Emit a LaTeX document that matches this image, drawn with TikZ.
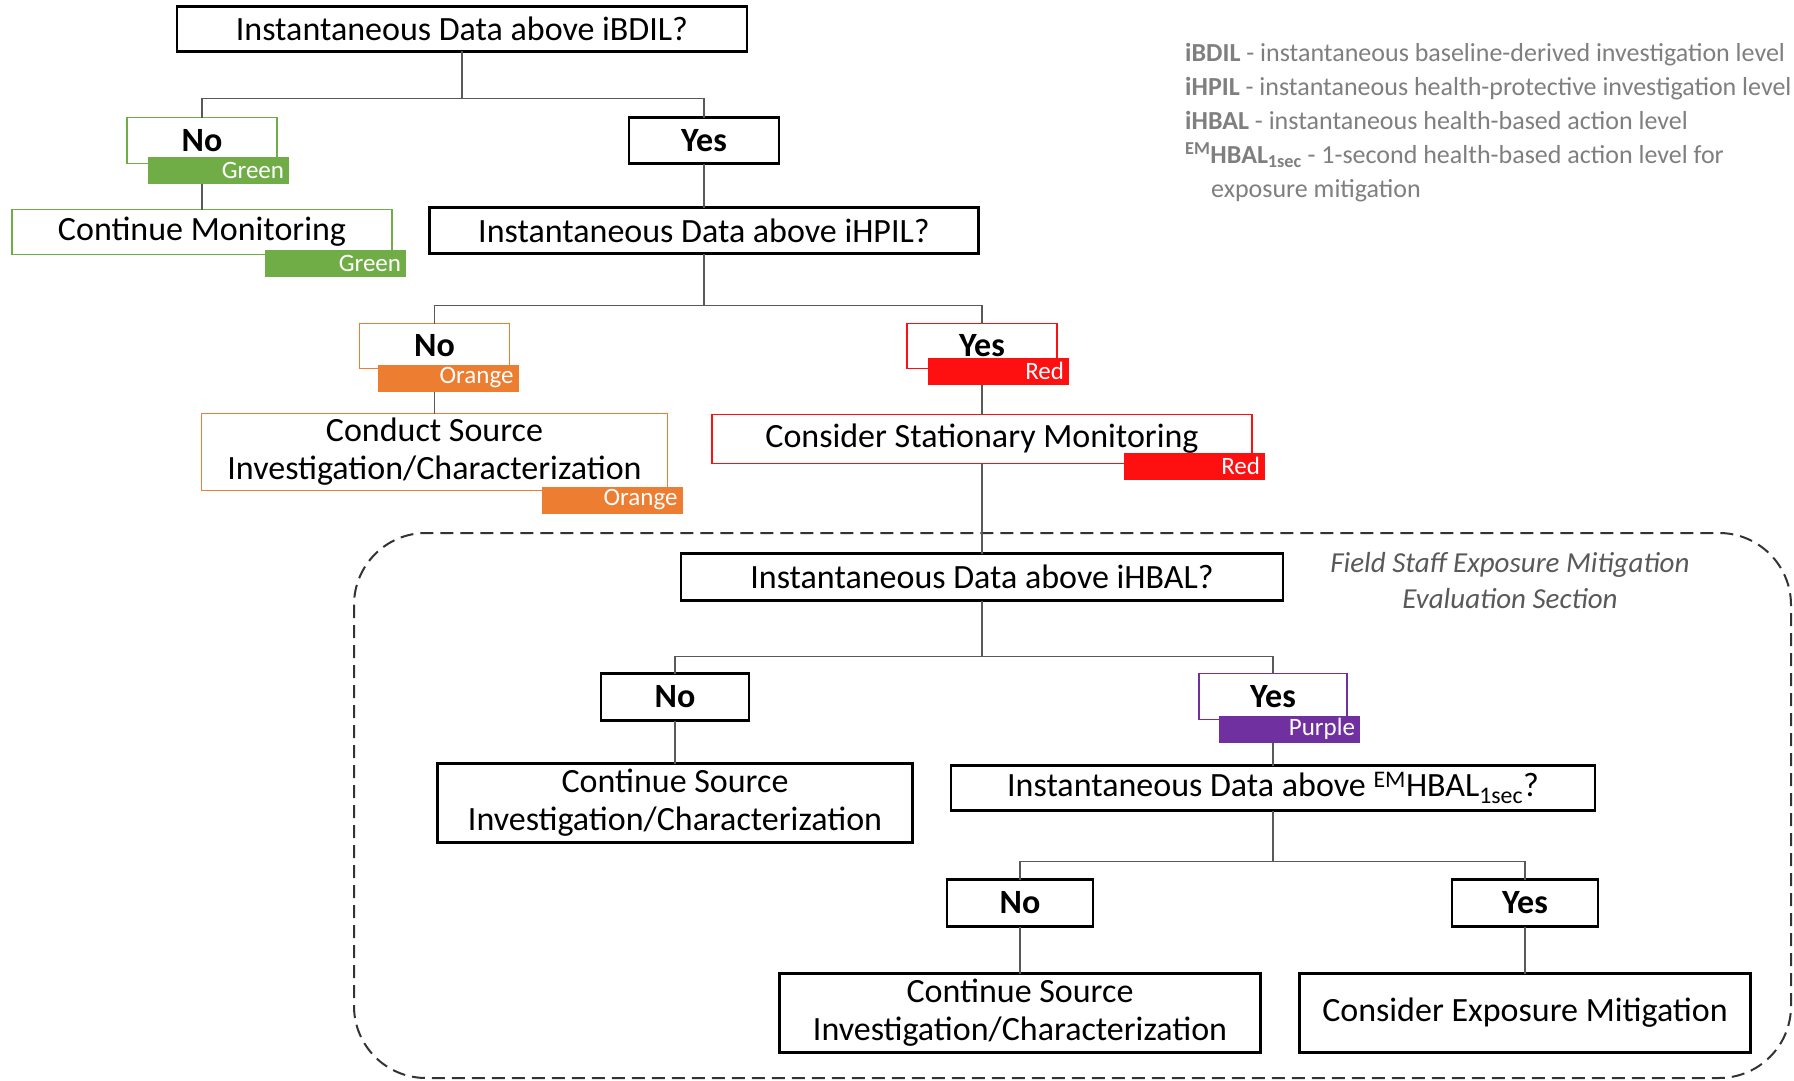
\documentclass[tikz,border=0pt]{standalone}
\usepackage{fontspec}
\setmainfont{Carlito}
\usepackage{tikz}
\usepackage{xcolor}
\usetikzlibrary{positioning}

\definecolor{okgreen}{HTML}{70AD47}
\definecolor{warnorange}{HTML}{ED7D31}
\definecolor{alertred}{HTML}{FF1010}
\definecolor{alertpurple}{HTML}{7030A0}
\definecolor{legendgray}{HTML}{7F7F7F}
\definecolor{zonegray}{HTML}{595959}

\newcommand{\boxfont}{\fontsize{34}{38}\selectfont}
\newcommand{\tagtextfont}{\fontsize{25}{26}\selectfont}
\newcommand{\legendfont}{\fontsize{26}{34}\selectfont}
\newcommand{\zonefont}{\fontsize{29}{36}\selectfont}

\tikzstyle{question} = [rectangle, minimum height=45pt, inner sep=0pt, outer sep=0pt, text centered, draw=black, line width=2.2pt, font=\boxfont]
\tikzstyle{answer} = [rectangle, minimum width=150pt, minimum height=46pt, inner sep=0pt, outer sep=0pt, text centered, draw=black, line width=2.2pt, font=\boxfont\bfseries]
\tikzstyle{outcome} = [rectangle, minimum height=79pt, inner sep=0pt, outer sep=0pt, align=center, draw=black, line width=2.2pt, font=\boxfont]
\tikzstyle{colortag} = [rectangle, anchor=south east, minimum height=27pt, text width=131pt, inner xsep=5pt, inner ysep=0pt, outer sep=0pt, align=right, text=white, font=\tagtextfont]
\tikzstyle{link} = [line width=1.8pt, draw=black!65]
\tikzstyle{zone} = [line width=2pt, draw=black!80, dash pattern=on 13pt off 7pt, rounded corners=72pt]

\begin{document}
\begin{tikzpicture}

\path [use as bounding box, fill=white] (0,0) rectangle (1794pt,-1081pt);

% Mitigation section
\draw [zone] (354pt,-533pt) rectangle (1791pt,-1078pt);
\node (zonelabel) [font=\zonefont\itshape, text=zonegray, align=center] at (1510pt,-581pt) {Field Staff Exposure Mitigation\\Evaluation Section};

% Legend
\node (legend) [anchor=north west, inner sep=0pt, align=left, text=legendgray, font=\legendfont] at (1185pt,-43pt) {\textbf{iBDIL} - instantaneous baseline-derived investigation level\\
\textbf{iHPIL} - instantaneous health-protective investigation level\\
\textbf{iHBAL} - instantaneous health-based action level\\
\textbf{\textsuperscript{EM}HBAL\textsubscript{1sec}} - 1-second health-based action level for\\
\hspace*{26pt}exposure mitigation};

% iBDIL
\node (q1) [question, minimum width=570pt] at (462pt,-29pt) {Instantaneous Data above iBDIL?};

\node (no1) [answer, draw=okgreen, line width=1.8pt, below=66pt of q1, xshift=-260pt] {No};

\node (yes1) [answer, below=66pt of q1, xshift=242pt] {Yes};

\node (mon1) [question, minimum width=380pt, draw=okgreen, line width=1.8pt, below=46pt of no1] {Continue Monitoring};

% iHPIL
\node (q2) [question, minimum width=549pt, minimum height=46pt, below=44pt of yes1] {Instantaneous Data above iHPIL?};

\node (no2) [answer, minimum height=45pt, draw=warnorange, line width=1.8pt, below=70pt of q2, xshift=-269.5pt] {No};

\node (yes2) [answer, minimum height=45pt, draw=alertred, line width=1.8pt, below=70pt of q2, xshift=278pt] {Yes};

\node (csi) [outcome, minimum width=466pt, minimum height=77pt, draw=warnorange, line width=1.8pt, below=45pt of no2] {Conduct Source\\Investigation/Characterization};

\node (csm) [question, minimum width=540pt, minimum height=49pt, draw=alertred, line width=1.8pt, below=46pt of yes2] {Consider Stationary Monitoring};

% iHBAL
\node (q3) [question, minimum width=602pt, minimum height=47pt, below=90pt of csm] {Instantaneous Data above iHBAL?};

\node (no3) [answer, minimum width=148pt, minimum height=47pt, below=73pt of q3, xshift=-307pt] {No};

\node (yes3) [answer, minimum width=148pt, draw=alertpurple, line width=1.8pt, below=73pt of q3, xshift=291pt] {Yes};

\node (cont3) [outcome, minimum width=475pt, below=43pt of no3] {Continue Source\\Investigation/Characterization};

\node (q4) [question, minimum width=644pt, below=46pt of yes3] {Instantaneous Data above \textsuperscript{EM}HBAL\textsubscript{1sec}?};

% EMHBAL
\node (no4) [answer, minimum width=146pt, minimum height=47pt, below=69pt of q4, xshift=-253pt] {No};

\node (yes4) [answer, minimum width=146pt, minimum height=47pt, below=69pt of q4, xshift=252pt] {Yes};

\node (cont4) [outcome, minimum width=481pt, below=47pt of no4] {Continue Source\\Investigation/Characterization};

\node (mit4) [outcome, minimum width=451pt, below=47pt of yes4] {Consider Exposure Mitigation};

% Links
\coordinate (fork1) at ([yshift=-47pt]q1.south);
\coordinate (fork2) at ([yshift=-52pt]q2.south);
\coordinate (fork3) at ([yshift=-56pt]q3.south);
\coordinate (fork4) at ([yshift=-51pt]q4.south);

\draw [link] (q1.south) -- (fork1);
\draw [link] (fork1) -| (no1.north);
\draw [link] (fork1) -| (yes1.north);
\draw [link] (no1.south) -- (mon1.north);
\draw [link] (yes1.south) -- (q2.north);
\draw [link] (q2.south) -- (fork2);
\draw [link] (fork2) -| (no2.north);
\draw [link] (fork2) -| (yes2.north);
\draw [link] (no2.south) -- (csi.north);
\draw [link] (yes2.south) -- (csm.north);
\draw [link] (csm.south) -- (q3.north);
\draw [link] (q3.south) -- (fork3);
\draw [link] (fork3) -| (no3.north);
\draw [link] (fork3) -| (yes3.north);
\draw [link] (no3.south) -- (cont3.north);
\draw [link] (yes3.south) -- (q4.north);
\draw [link] (q4.south) -- (fork4);
\draw [link] (fork4) -| (no4.north);
\draw [link] (fork4) -| (yes4.north);
\draw [link] (no4.south) -- (cont4.north);
\draw [link] (yes4.south) -- (mit4.north);

% Tags
\node (tag-no1) [colortag, fill=okgreen] at ([xshift=12pt, yshift=-20pt]no1.south east) {Green};
\node (tag-mon1) [colortag, fill=okgreen] at ([xshift=14pt, yshift=-22pt]mon1.south east) {Green};
\node (tag-no2) [colortag, fill=warnorange] at ([xshift=9pt, yshift=-23pt]no2.south east) {Orange};
\node (tag-csi) [colortag, fill=warnorange] at ([xshift=15pt, yshift=-23pt]csi.south east) {Orange};
\node (tag-yes2) [colortag, fill=alertred] at ([xshift=12pt, yshift=-16pt]yes2.south east) {Red};
\node (tag-csm) [colortag, fill=alertred] at ([xshift=13pt, yshift=-16pt]csm.south east) {Red};
\node (tag-yes3) [colortag, fill=alertpurple] at ([xshift=13pt, yshift=-23pt]yes3.south east) {Purple};

\end{tikzpicture}
\end{document}
